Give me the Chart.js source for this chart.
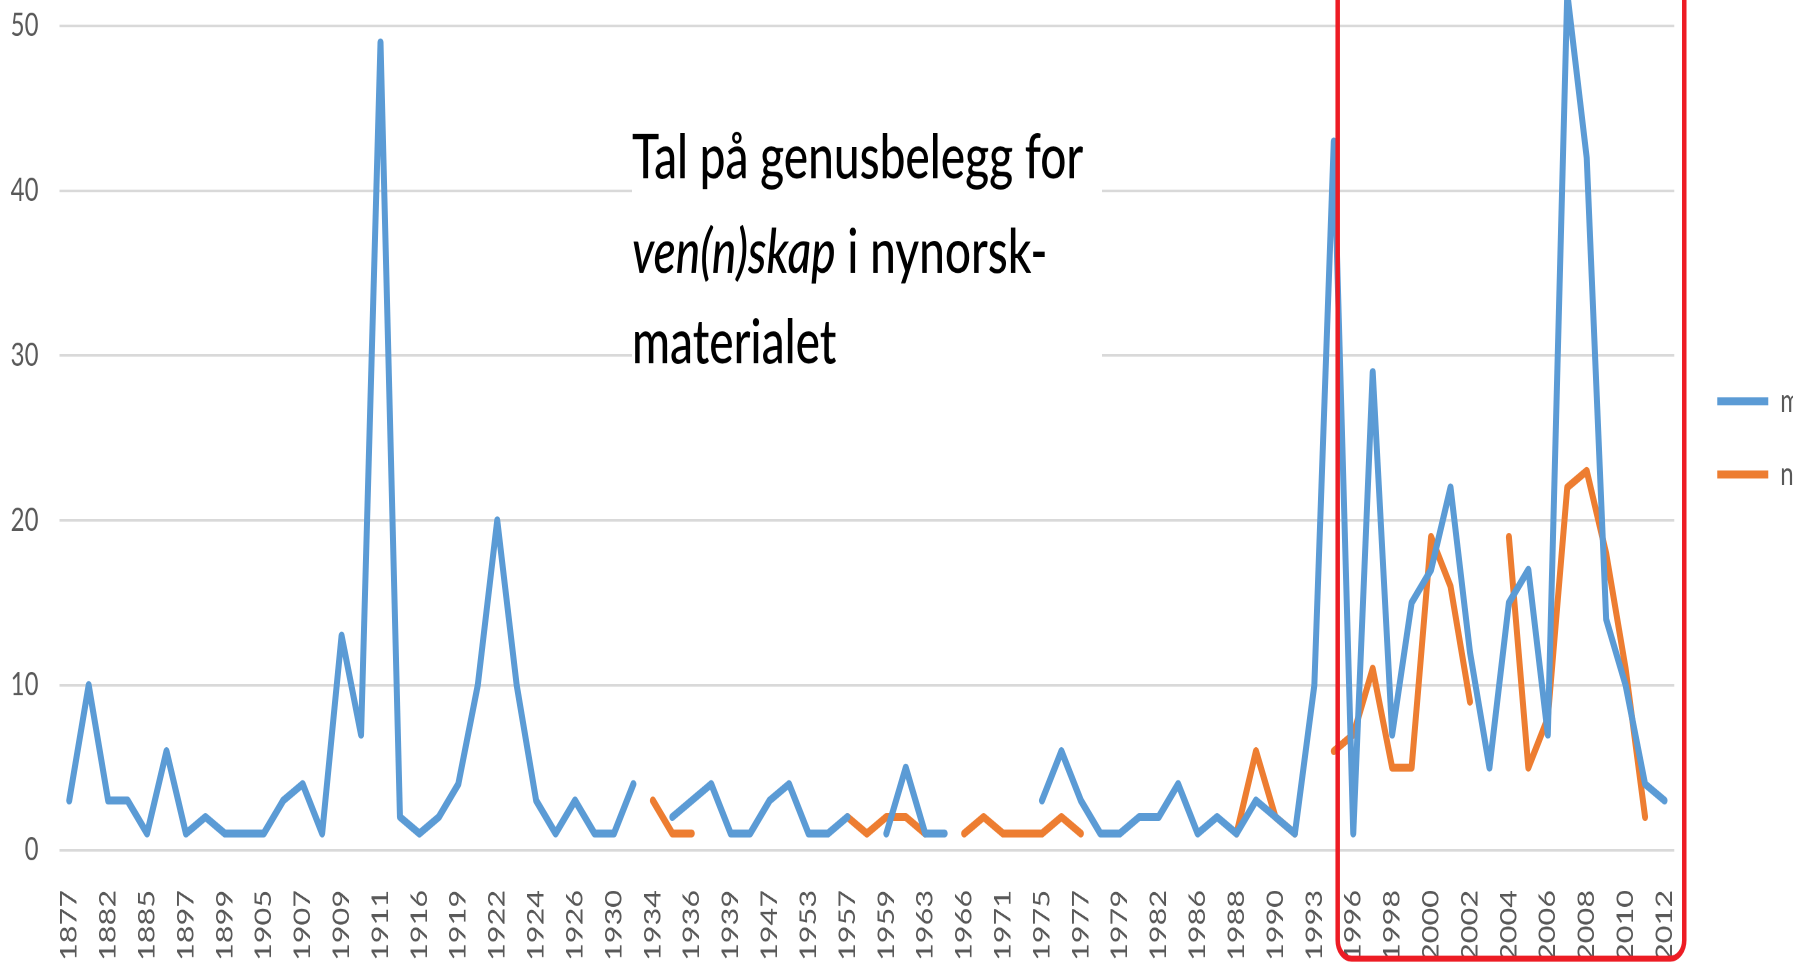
<!DOCTYPE html>
<html>
<head>
<meta charset="utf-8">
<title>Tal på genusbelegg for ven(n)skap i nynorskmaterialet</title>
<script src="https://cdn.jsdelivr.net/npm/chart.js@4.4.1/dist/chart.umd.min.js"></script>
<style>
  html, body { margin: 0; padding: 0; background: #fff; overflow: hidden; }
  body { width: 1793px; height: 962px; position: relative; }
  /* source picture is stretched vertically: draw flat, then stretch the box */
  #wrap { position: absolute; left: 0; top: 0; width: 1810px; height: 723px; transform: scaleY(1.3306); transform-origin: 0 0; }
</style>
</head>
<body>
<div id="wrap"><canvas id="genus-chart" width="1810" height="723"></canvas></div>
<script>
// ============================================================
// DATA - genusbelegg per aar (m / n)
// ============================================================

const YEARS = [
  '1877', '1880', '1882', '1884', '1885', '1890', '1897', '1898', '1899', '1903',
  '1905', '1906', '1907', '1908', '1909', '1910', '1911', '1914', '1916', '1918',
  '1919', '1921', '1922', '1923', '1924', '1925', '1926', '1928', '1930', '1932',
  '1934', '1935', '1936', '1938', '1939', '1946', '1947', '1950', '1953', '1955',
  '1957', '1958', '1959', '1961', '1963', '1965', '1966', '1969', '1971', '1973',
  '1975', '1976', '1977', '1978', '1979', '1981', '1982', '1985', '1986', '1987',
  '1988', '1989', '1990', '1992', '1993', '1994', '1996', '1997', '1998', '1999',
  '2000', '2001', '2002', '2003', '2004', '2005', '2006', '2007', '2008', '2009',
  '2010', '2011', '2012'
];

const M_VALUES = [
  3, 10, 3, 3, 1, 6, 1, 2, 1, 1,
  1, 3, 4, 1, 13, 7, 49, 2, 1, 2,
  4, 10, 20, 10, 3, 1, 3, 1, 1, 4,
  null, 2, 3, 4, 1, 1, 3, 4, 1, 1,
  2, null, 1, 5, 1, 1, null, null, null, null,
  3, 6, 3, 1, 1, 2, 2, 4, 1, 2,
  1, 3, 2, 1, 10, 43, 1, 29, 7, 15,
  17, 22, 12, 5, 15, 17, 7, 52, 42, 14,
  10, 4, 3
];

const N_VALUES = [
  null, null, null, null, null, null, null, null, null, null,
  null, null, null, null, null, null, null, null, null, null,
  null, null, null, null, null, null, null, null, null, null,
  3, 1, 1, null, null, null, null, null, null, null,
  2, 1, 2, 2, 1, null, 1, 2, 1, 1,
  1, 2, 1, null, null, null, null, null, null, null,
  1, 6, 2, 1, null, 6, 7, 11, 5, 5,
  19, 16, 9, null, 19, 5, 8, 22, 23, 18,
  11, 2, null
];

const Y_TICKS = [0, 10, 20, 30, 40, 50];

const SERIES_NAMES = ['m', 'n'];

const NOTE_TITLE = ['Tal på genusbelegg for', 'ven(n)skap', ' i nynorsk-', 'materialet'];

// index where the marked period (red frame) starts
const MARK_FROM = 65.2;

const COLORS = {
  m: '#5B9BD5',
  n: '#ED7D31',
  tick: '#595959',
  grid: '#D9D9D9',
  mark: '#ED1C24'
};

Chart.defaults.font.family = 'Lato, "Open Sans", sans-serif';

// white text box with the chart note
const noteBox = {
  id: 'noteBox',
  beforeDatasetsDraw(chart) {
    const ctx = chart.ctx;
    const x = 632;
    ctx.save();
    ctx.fillStyle = '#fff';
    ctx.fillRect(x, 75, 470, 220);
    ctx.fillStyle = '#000';
    ctx.textBaseline = 'alphabetic';
    ctx.font = '500 46px Lato';
    ctx.fillText(NOTE_TITLE[0], x, 134);
    ctx.font = 'italic 500 46px Lato';
    ctx.fillText(NOTE_TITLE[1], x, 205);
    const w = ctx.measureText(NOTE_TITLE[1]).width;
    ctx.font = '500 46px Lato';
    ctx.fillText(NOTE_TITLE[2], x + w, 205);
    ctx.fillText(NOTE_TITLE[3], x, 273);
    ctx.restore();
  }
};

// red rounded frame around the last period
const markFrame = {
  id: 'markFrame',
  afterDraw(chart) {
    const ctx = chart.ctx;
    const left = chart.scales.x.getPixelForValue(MARK_FROM);
    const right = chart.chartArea.right + 10;
    const bottom = chart.height - 2.5;
    ctx.save();
    ctx.strokeStyle = COLORS.mark;
    ctx.lineWidth = 4.5;
    ctx.beginPath();
    ctx.roundRect(left, -40, right - left, bottom + 40, 14);
    ctx.stroke();
    ctx.restore();
  }
};

const lineStyle = color => ({
  borderColor: color,
  backgroundColor: color,
  borderWidth: 6,
  borderCapStyle: 'round',
  borderJoinStyle: 'round',
  pointRadius: 0,
  pointHoverRadius: 0,
  tension: 0,
  spanGaps: false,
  clip: false
});

new Chart(document.getElementById('genus-chart'), {
  type: 'line',
  data: {
    labels: YEARS,
    datasets: [
      { label: SERIES_NAMES[0], data: M_VALUES, ...lineStyle(COLORS.m) },
      { label: SERIES_NAMES[1], data: N_VALUES, ...lineStyle(COLORS.n) }
    ]
  },
  options: {
    responsive: false,
    animation: false,
    devicePixelRatio: 2,
    layout: { padding: { top: 19.5, left: 0, right: 0, bottom: 0 } },
    plugins: {
      legend: {
        position: 'right',
        fullSize: false,
        labels: {
          usePointStyle: true,
          pointStyle: 'line',
          pointStyleWidth: 51,
          color: COLORS.tick,
          font: { size: 24 },
          padding: 31
        }
      },
      tooltip: { enabled: false }
    },
    scales: {
      x: {
        offset: true,
        grid: { display: false },
        border: { display: false },
        ticks: {
          autoSkip: false,
          minRotation: 90,
          maxRotation: 90,
          padding: 22,
          color: COLORS.tick,
          font: { size: 23 },
          callback: function (v, i) { return i % 2 === 0 ? this.getLabelForValue(v) : ''; }
        },
        afterFit: scale => { scale.height = 84.2; }
      },
      y: {
        min: Y_TICKS[0],
        max: Y_TICKS[Y_TICKS.length - 1],
        border: { display: false },
        grid: { color: COLORS.grid, lineWidth: 2, drawTicks: true, tickLength: 21, tickColor: 'rgba(0,0,0,0)' },
        ticks: {
          stepSize: Y_TICKS[1] - Y_TICKS[0],
          padding: 0,
          color: COLORS.tick,
          font: { size: 24 }
        },
        afterFit: scale => { scale.width = 59.5; }
      },
      // empty spacer between plot and legend
      gap: {
        type: 'linear',
        position: 'right',
        grid: { display: false },
        border: { display: false },
        ticks: { display: false },
        afterFit: scale => { scale.width = 12; }
      }
    }
  },
  plugins: [noteBox, markFrame]
});
</script>
</body>
</html>
